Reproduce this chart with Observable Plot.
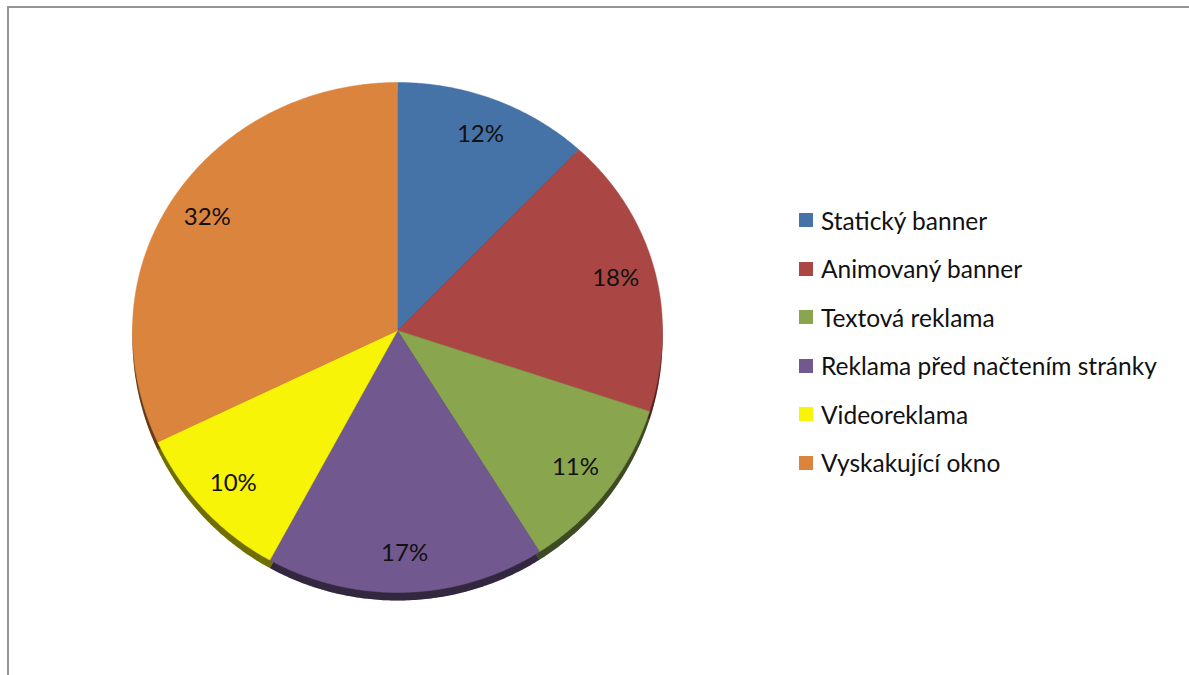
<!DOCTYPE html>
<html>
<head>
<meta charset="utf-8">
<script src="https://cdn.jsdelivr.net/npm/d3@7"></script>
<script src="https://cdn.jsdelivr.net/npm/@observablehq/plot@0.6"></script>
<style>
  html, body { margin: 0; padding: 0; background: #fff; }
  #wrap { position: relative; width: 1189px; height: 675px; overflow: hidden; font-family: Lato, "Noto Sans", sans-serif; }
  #frame { position: absolute; left: 7px; top: 6px; width: 1300px; height: 800px; border-left: 2px solid #969696; border-top: 2px solid #969696; box-sizing: border-box; }
  #chart { position: absolute; left: 0; top: 0; }
  #legend { position: absolute; left: 799px; top: 196px; }
  .item { display: flex; align-items: center; height: 48.5px; font-size: 24.5px; color: #111; white-space: nowrap; }
  .sw { width: 14px; height: 14px; margin-right: 8px; flex: none; }
</style>
</head>
<body>
<div id="wrap">
  <div id="frame"></div>
  <div id="chart"></div>
  <div id="legend"></div>
</div>
<script>
const categories = ["Statický banner", "Animovaný banner", "Textová reklama", "Reklama před načtením stránky", "Videoreklama", "Vyskakující okno"];
const values = [12, 18, 11, 17, 10, 32];
const labels = ["12%", "18%", "11%", "17%", "10%", "32%"];
const colors = ["#4572A7", "#AA4643", "#89A54E", "#71588F", "#F7F408", "#DB843D"];

// perspective: the lower half of the tilted pie looks slightly taller
const lower = 262 / 248;
const py = v => (v < 0 ? v * lower : v);

const total = d3.sum(values);
const slices = [];
const labelRows = [];
let acc = 0;
categories.forEach((cat, i) => {
  const a0 = acc / total * 2 * Math.PI;
  acc += values[i];
  const a1 = acc / total * 2 * Math.PI;
  slices.push({cat, x: 0, y: 0});
  const n = Math.max(2, Math.ceil((a1 - a0) / 0.01));
  for (let k = 0; k <= n; k++) {
    const a = a0 + (a1 - a0) * k / n;
    slices.push({cat, x: Math.sin(a), y: py(Math.cos(a))});
  }
  slices.push({cat, x: 0, y: 0});
  const am = (a0 + a1) / 2;
  labelRows.push({cat, label: labels[i], x: 0.85 * Math.sin(am), y: py(0.85 * Math.cos(am))});
});

const chart = Plot.plot({
  width: 1189,
  height: 675,
  margin: 0,
  x: {domain: [-1, 1], range: [132, 662], axis: null},
  y: {domain: [-lower, 1], range: [592, 82], axis: null},
  color: {domain: categories, range: colors},
  style: {background: "transparent", overflow: "visible"},
  marks: [
    Plot.line(slices, {x: "x", y: "y", z: "cat", fill: "cat", stroke: "none", dy: 8}),
    Plot.line(slices, {x: "x", y: "y", z: "cat", fill: "black", fillOpacity: 0.55, stroke: "none", dy: 8}),
    Plot.line(slices, {x: "x", y: "y", z: "cat", fill: "cat", stroke: "cat", strokeWidth: 0.5}),
    Plot.text(labelRows, {x: "x", y: "y", text: "label", fontSize: 24, fill: "#111", fontFamily: "Lato, 'Noto Sans', sans-serif"})
  ]
});
document.getElementById("chart").appendChild(chart);

const legend = document.getElementById("legend");
categories.forEach((cat, i) => {
  const row = document.createElement("div");
  row.className = "item";
  const sw = document.createElement("span");
  sw.className = "sw";
  sw.style.background = colors[i];
  const t = document.createElement("span");
  t.textContent = cat;
  row.appendChild(sw);
  row.appendChild(t);
  legend.appendChild(row);
});
</script>
</body>
</html>
